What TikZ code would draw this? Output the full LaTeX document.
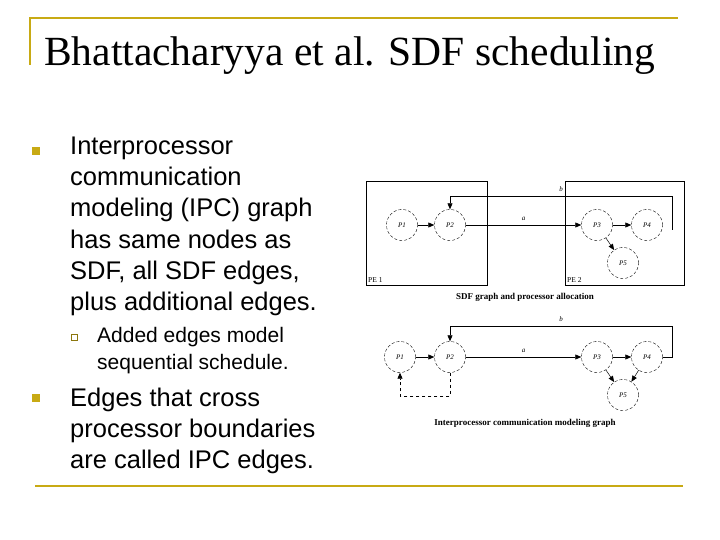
\documentclass[tikz,border=0pt]{standalone}
\usepackage{fontspec}
\setmainfont{Liberation Serif}
\newfontfamily\arial{Liberation Sans}
\usetikzlibrary{arrows.meta}
\definecolor{gold}{RGB}{200,170,20}
\begin{document}
\begin{tikzpicture}[x=1pt,y=-1pt,
  proc/.style={circle,draw,densely dashed,minimum size=31pt,inner sep=0pt,font=\itshape\fontsize{7}{8}\selectfont},
  edge/.style={-{Triangle[length=6pt,width=5pt]},line width=0.5pt},
  lbl/.style={font=\itshape\fontsize{7}{8}\selectfont},
  captxt/.style={font=\bfseries\fontsize{9}{10}\selectfont},
  body/.style={anchor=base west,inner sep=0pt,font=\arial\fontsize{25.5}{28}\selectfont},
  sub/.style={anchor=base west,inner sep=0pt,font=\arial\fontsize{21}{22}\selectfont},
  pebox/.style={draw,line width=0.6pt}]
\useasboundingbox (0,0) rectangle (720,540);
\fill[white] (0,0) rectangle (720,540);
% frame lines
\draw[gold,line width=2pt] (30,65) -- (30,18) -- (678,18);
\draw[gold,line width=2pt] (35,486) -- (683,486);
\node[anchor=base west,inner sep=0pt,font=\fontsize{41.5}{44}\selectfont] (title) at (44,66) {Bhattacharyya et al. SDF scheduling};
% bullets
\node[fill=gold,minimum size=8pt,inner sep=0pt] (b1) at (36,151) {};
\node[body] (t1) at (70,155) {Interprocessor};
\node[body] (t2) at (70,186) {communication};
\node[body] (t3) at (70,217) {modeling (IPC) graph};
\node[body] (t4) at (70,248) {has same nodes as};
\node[body] (t5) at (70,279) {SDF, all SDF edges,};
\node[body] (t6) at (70,310) {plus additional edges.};
\node[draw=gold!70!black,minimum size=6pt,inner sep=0pt,line width=0.6pt] (s1) at (74,337) {};
\node[sub] (u1) at (97,342) {Added edges model};
\node[sub] (u2) at (97,369) {sequential schedule.};
\node[fill=gold,minimum size=8pt,inner sep=0pt] (b2) at (36,398) {};
\node[body] (v1) at (70,406) {Edges that cross};
\node[body] (v2) at (70,437) {processor boundaries};
\node[body] (v3) at (70,468) {are called IPC edges.};
% top diagram
\draw[pebox] (366,181) rectangle (487,285);
\draw[pebox] (565,181) rectangle (684,285);
\node[anchor=south west,inner sep=2pt,font=\fontsize{7.5}{8}\selectfont] (pe1) at (366,285) {PE 1};
\node[anchor=south west,inner sep=2pt,font=\fontsize{7.5}{8}\selectfont] (pe2) at (565,285) {PE 2};
\node[proc] (a1) at (402,225) {P1};
\node[proc] (a2) at (450,225) {P2};
\node[proc] (a3) at (597,225) {P3};
\node[proc] (a4) at (647,225) {P4};
\node[proc] (a5) at (623,263) {P5};
\draw[edge] (a1) -- (a2);
\draw[edge] (a2) -- node[lbl,above=1pt] {a} (a3);
\draw[edge] (a3) -- (a4);
\draw[edge] (a3) -- (a5);
\coordinate (c1) at (672,196);
\coordinate (c0) at (672,230);
\draw[edge] (c0) -- (c1) -- node[lbl,above=1pt] {b} (a2.north |- c1) -- (a2);
\node[captxt] (cap1) at (525,297) {SDF graph and processor allocation};
% bottom diagram
\node[proc] (p1) at (400,357) {P1};
\node[proc] (p2) at (450,357) {P2};
\node[proc] (p3) at (597,357) {P3};
\node[proc] (p4) at (647,357) {P4};
\node[proc] (p5) at (623,395) {P5};
\draw[edge] (p1) -- (p2);
\draw[edge] (p2) -- node[lbl,above=1pt] {a} (p3);
\draw[edge] (p3) -- (p4);
\draw[edge] (p3) -- (p5);
\draw[edge] (p4) -- (p5);
\coordinate (d1) at (672,326);
\draw[edge] (p4.east) -- (d1 |- p4.east) -- (d1) -- node[lbl,above=1pt] {b} (p2.north |- d1) -- (p2);
\coordinate (e1) at (450,396);
\coordinate (e2) at (400,396);
\draw[edge,dashed,line width=0.8pt] (p2.south) -- (e1) -- (e2) -- (p1.south);
\node[captxt] (cap2) at (525,423) {Interprocessor communication modeling graph};
\end{tikzpicture}
\end{document}
